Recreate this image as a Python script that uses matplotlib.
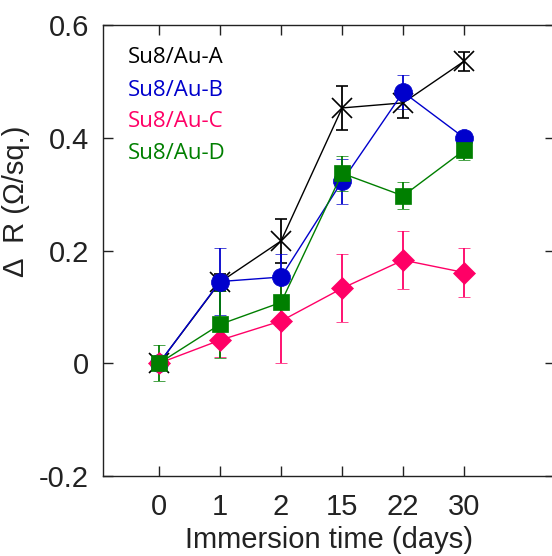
import matplotlib
matplotlib.use('Agg')
import numpy as np
import matplotlib.pyplot as plt

# ============================================================
# data
# ============================================================
days = ['0', '1', '2', '15', '22', '30']

a_val = [0.0, 0.144, 0.217, 0.453, 0.462, 0.536]
a_err = [0.0, 0.015, 0.039, 0.039, 0.027, 0.017]

b_val = [0.0, 0.145, 0.153, 0.323, 0.481, 0.400]
b_err = [0.0, 0.06, 0.04, 0.04, 0.03, 0.012]

c_val = [0.0, 0.041, 0.075, 0.133, 0.183, 0.161]
c_err = [0.0, 0.03, 0.074, 0.06, 0.051, 0.044]

d_val = [0.0, 0.069, 0.108, 0.337, 0.297, 0.378]
d_err = [0.032, 0.06, 0.042, 0.031, 0.024, 0.018]

labels = ['Su8/Au-A', 'Su8/Au-B', 'Su8/Au-C', 'Su8/Au-D']
colors = ['black', '#0000CC', '#FF0066', '#007F00']

plt.rcParams['font.family'] = ['Liberation Sans', 'DejaVu Sans']

fig = plt.figure(figsize=(5.52, 5.56), dpi=100)
ax = fig.add_axes([0.1866, 0.1439, 0.819, 0.811])

x = np.arange(1, len(days) + 1)

series = [
    (a_val, a_err, 'x', 14, colors[0]),
    (b_val, b_err, 'o', 13, colors[1]),
    (c_val, c_err, 'D', 11, colors[2]),
    (d_val, d_err, 's', 11, colors[3]),
]
for val, err, mk, ms, col in series:
    ax.errorbar(x, val, yerr=err, color=col, marker=mk, markersize=ms,
                markeredgewidth=1.2 if mk == 'x' else 0.5, markeredgecolor=col,
                linewidth=1.0, elinewidth=1.3, capsize=4, capthick=1.3)

ax.set_xlim(0.082, 7.49)
ax.set_ylim(-0.2, 0.6)
ax.set_xticks(x)
ax.set_xticklabels(days)
ax.set_yticks([-0.2, 0, 0.2, 0.4, 0.6])
ax.set_yticklabels(['-0.2', '0', '0.2', '0.4', '0.6'])
ax.tick_params(direction='in', length=7, width=1, labelsize=21,
               top=True, right=True, colors='#222222', labelcolor='#222222')
ax.tick_params(axis='x', pad=12)
ax.tick_params(axis='y', pad=10)
ax.set_xlabel('Immersion time (days)', fontsize=21, color='#222222', labelpad=4)
ax.set_ylabel('Δ  R (Ω/sq.)', fontsize=21, color='#222222')
ax.yaxis.set_label_coords(-0.161, 0.61)
for s in ax.spines.values():
    s.set_linewidth(1.0)
    s.set_color('#222222')

# legend as coloured text
ly = [0.927, 0.856, 0.786, 0.716]
for lab, col, yy in zip(labels, colors, ly):
    ax.text(0.055, yy, lab, color=col, fontsize=16, family='Open Sans',
            transform=ax.transAxes, va='center', ha='left')

plt.savefig('out.png', dpi=100)
